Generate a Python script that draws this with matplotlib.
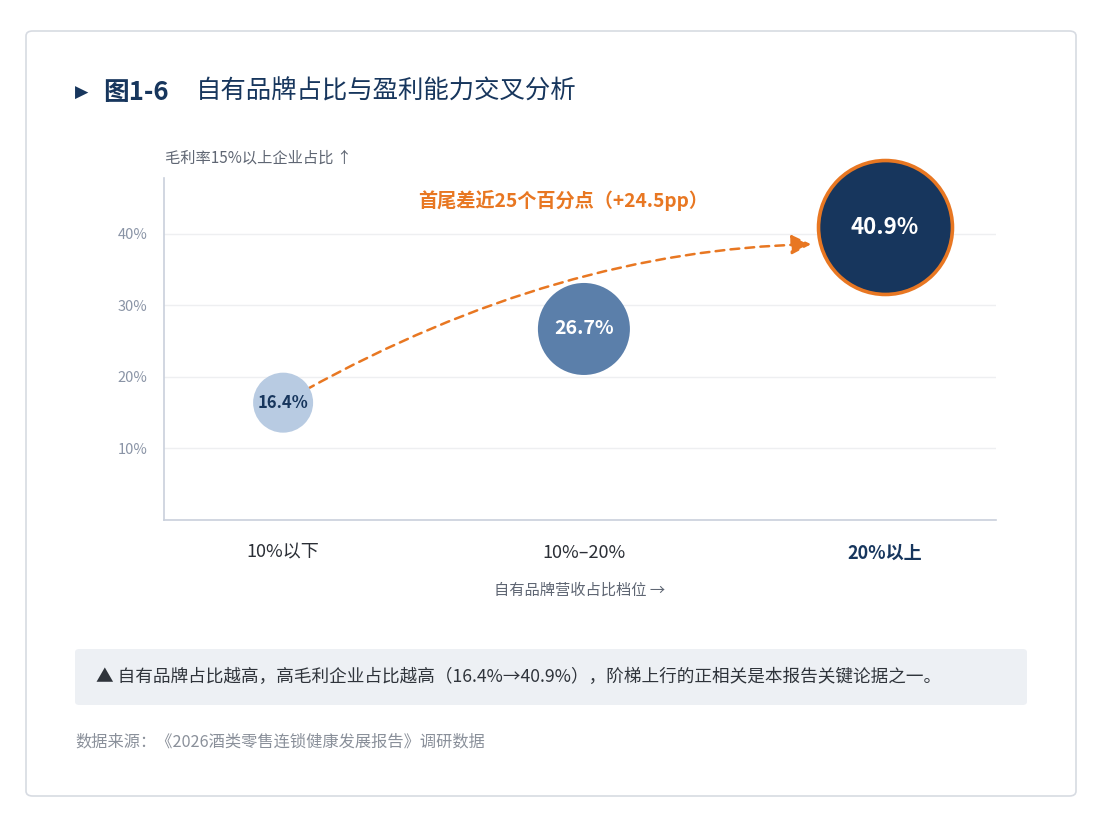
import matplotlib
matplotlib.use("Agg")
import matplotlib.pyplot as plt
from matplotlib.patches import FancyBboxPatch

plt.rcParams['font.family'] = ['Noto Sans CJK SC', 'DejaVu Sans']

categories = ["10%以下", "10%–20%", "20%以上"]
values = [16.4, 26.7, 40.9]
value_labels = ["16.4%", "26.7%", "40.9%"]
yticks = [10, 20, 30, 40]
ytick_labels = ["10%", "20%", "30%", "40%"]
title_num = "图1-6"
title_text = "自有品牌占比与盈利能力交叉分析"
ylabel = "毛利率15%以上企业占比 ↑"
xlabel = "自有品牌营收占比档位 →"
annot = "首尾差近25个百分点（+24.5pp）"
note = "▲ 自有品牌占比越高，高毛利企业占比越高（16.4%→40.9%），阶梯上行的正相关是本报告关键论据之一。"
source = "数据来源：《2026酒类零售连锁健康发展报告》调研数据"

W, H = 1112, 822
fig = plt.figure(figsize=(W / 100, H / 100), dpi=100)
fig.patch.set_facecolor("white")

def fx(px): return px / W
def fy(py): return 1 - py / H

# card
card = FancyBboxPatch((fx(26), fy(796)), fx(1076) - fx(26), fy(31) - fy(796),
                      boxstyle="round,pad=0,rounding_size=0.006",
                      transform=fig.transFigure, facecolor="white",
                      edgecolor="#d7dbe2", linewidth=1.2, zorder=-2)
fig.patches.append(card)

navy = "#17365d"
orange = "#e87722"

# title
fig.text(fx(75), fy(93), "▶", fontsize=12.5, color=navy, va="center", ha="left", family=['DejaVu Sans'])
fig.text(fx(103), fy(92), title_num, fontsize=18.5, color=navy, va="center", ha="left", fontweight="bold")
fig.text(fx(196), fy(92), title_text, fontsize=18.3, color=navy, va="center", ha="left", fontweight="medium")

ax = fig.add_axes([fx(164), fy(520), fx(996) - fx(164), fy(178) - fy(520)], zorder=2)
ax.set_xlim(-0.396, 2.37)
ax.set_ylim(0, 47.8)
ax.set_facecolor("none")

for s in ["top", "right"]:
    ax.spines[s].set_visible(False)
for s in ["left", "bottom"]:
    ax.spines[s].set_color("#c9d0dc")
    ax.spines[s].set_linewidth(1.2)

ax.set_yticks(yticks)
ax.set_yticklabels(ytick_labels, color="#8a94a6", fontsize=10.5)
ax.tick_params(axis="y", length=0, pad=12)
ax.grid(axis="y", color="#eeeff1", linewidth=1)
ax.set_axisbelow(True)

xs = list(range(len(categories)))
ax.set_xticks(xs)
ax.set_xticklabels(categories, fontsize=13, color="#2b2f36")
ax.tick_params(axis="x", length=0, pad=17)
lbls = ax.get_xticklabels()
lbls[-1].set_fontweight("bold")
lbls[-1].set_color(navy)

ax.set_xlabel(xlabel, fontsize=11, color="#5f6673", labelpad=14)

fig.text(fx(165), fy(158), ylabel, fontsize=11, color="#5f6673", va="center", ha="left")

colors = ["#b8cbe2", "#5b7faa", navy]
sizes = [1866, 4389, 9300]
edges = ["none", "none", orange]
lws = [0, 0, 2.6]
txt_colors = [navy, "white", "white"]
txt_sizes = [12, 14, 16]
for i in range(3):
    ax.scatter([xs[i]], [values[i]], s=sizes[i], color=colors[i], edgecolors=edges[i],
               linewidths=lws[i], zorder=3, clip_on=False)
    ax.text(xs[i], values[i], value_labels[i], ha="center", va="center",
            color=txt_colors[i], fontsize=txt_sizes[i], fontweight="bold", zorder=4)

# dashed arrow (from first bubble to left edge of last bubble, slightly below its centre)
ax.annotate("", xy=(xs[2], values[2] - 2.5), xytext=(xs[0], values[0]),
            arrowprops=dict(arrowstyle="-|>,head_length=1.2,head_width=0.6",
                            color=orange, lw=1.8, linestyle=(0, (3.5, 2.5)),
                            connectionstyle="angle3,angleA=30,angleB=-3",
                            shrinkA=19, shrinkB=53),
            zorder=2)

ax.text((xs[0] + xs[2]) / 2 - 0.07, 44.7, annot, ha="center", va="center",
        color=orange, fontsize=13.8, fontweight="bold")

# note box
box = FancyBboxPatch((fx(75), fy(705)), fx(1027) - fx(75), fy(649) - fy(705),
                     boxstyle="round,pad=0,rounding_size=0.004",
                     transform=fig.transFigure, facecolor="#edf0f4",
                     edgecolor="none", zorder=-1)
fig.patches.append(box)
fig.text(fx(96), fy(677), note, fontsize=12.7, color="#2f343b", va="center", ha="left")

fig.text(fx(75), fy(742), source, fontsize=11.7, color="#8a909a", va="center", ha="left")

fig.savefig("out.png", dpi=100, facecolor="white")
